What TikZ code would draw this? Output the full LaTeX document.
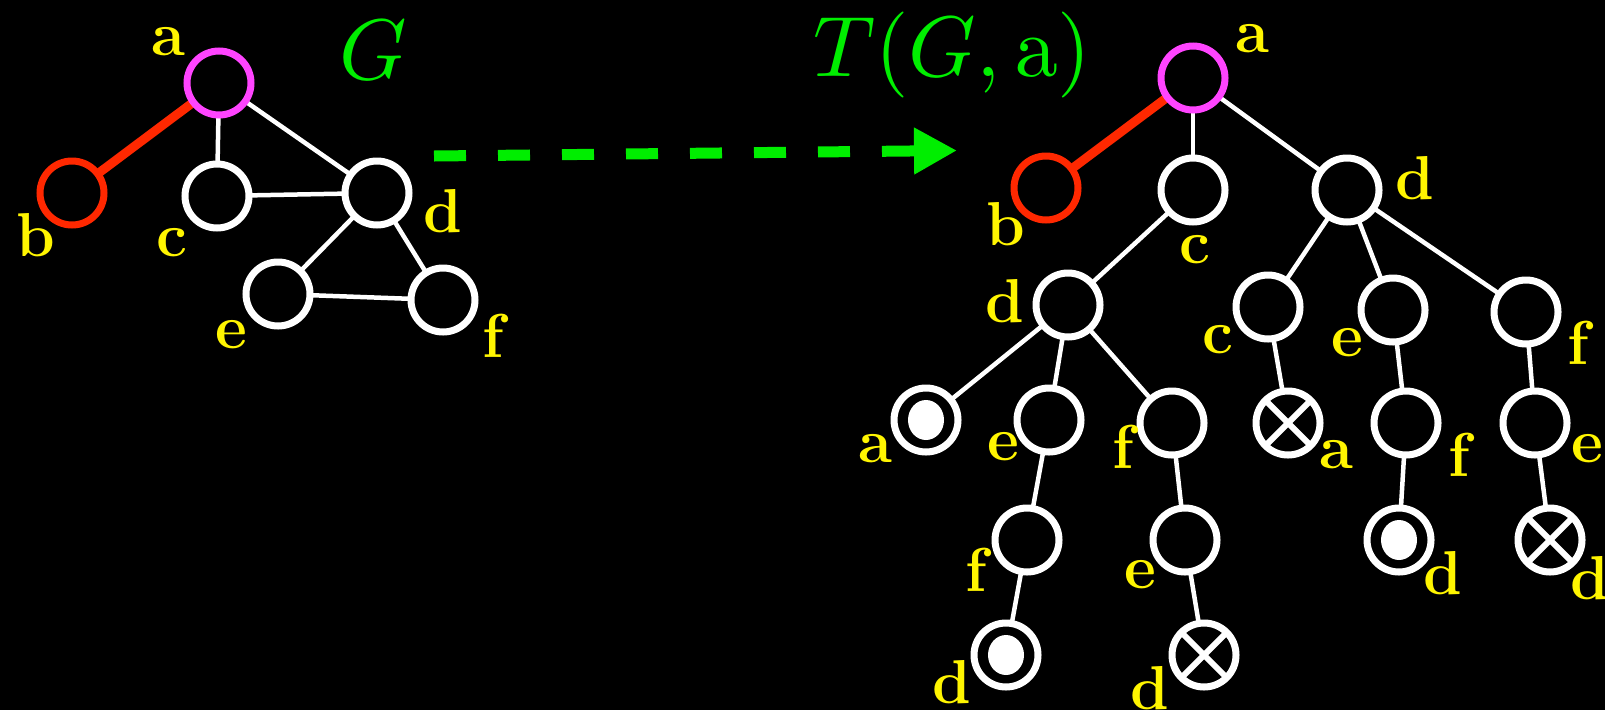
\documentclass[tikz,border=0pt]{standalone}
\DeclareFontShape{OT1}{cmr}{m}{n}{<->cmr10}{}
\DeclareFontShape{OML}{cmm}{m}{it}{<->cmmi10}{}
\DeclareFontShape{OMS}{cmsy}{m}{n}{<->cmsy10}{}
\DeclareFontShape{OMX}{cmex}{m}{n}{<->cmex10}{}
\usetikzlibrary{arrows.meta}
\definecolor{gg}{RGB}{0,238,0}
\definecolor{rr}{RGB}{255,40,0}
\definecolor{mm}{RGB}{255,68,255}
\definecolor{yy}{RGB}{255,245,0}
\pgfdeclarelayer{bg}
\pgfdeclarelayer{edges}
\pgfsetlayers{bg,edges,main}
\begin{document}
\begin{tikzpicture}[x=1pt,y=-1pt,
  v/.style={circle,draw=white,line width=7pt,minimum size=64pt,inner sep=0pt,outer sep=0pt,fill=black},
  rootv/.style={v,draw=mm},
  redv/.style={v,draw=rr},
  ed/.style={draw=white,line width=4.5pt},
  red/.style={draw=rr,line width=9pt},
  lab/.style={text=yy,font=\fontsize{62}{62}\selectfont\bfseries,inner sep=0pt},
  dot/.style={fill=white},
  xl/.style={draw=white,line width=6pt}]
\begin{pgfonlayer}{bg}
\fill[black] (0,0) rectangle (1605,710);
\end{pgfonlayer}
\useasboundingbox (0,0) rectangle (1605,710);

% ---------- left graph G ----------
\node[rootv] (La) at (219,83) {};
\node[redv] (Lb) at (72,193) {};
\node[v] (Lc) at (217,196) {};
\node[v] (Ld) at (377,193) {};
\node[v] (Le) at (278,294) {};
\node[v] (Lf) at (443,300) {};
\begin{pgfonlayer}{edges}
\draw[red] (La) -- (Lb);
\draw[ed] (La) -- (Lc);
\draw[ed] (La) -- (Ld);
\draw[ed] (Lc) -- (Ld);
\draw[ed] (Ld) -- (Le);
\draw[ed] (Ld) -- (Lf);
\draw[ed] (Le) -- (Lf);
\end{pgfonlayer}
\node[lab] (lLa) at (168,42) {a};
\node[lab] (lLb) at (36,235) {b};
\node[lab] (lLc) at (172,243) {c};
\node[lab] (lLd) at (443,211) {d};
\node[lab] (lLe) at (231,335) {e};
\node[lab] (lLf) at (493,336) {f};
\node[text=gg,inner sep=0pt,font=\fontsize{86}{86}\selectfont] (G) at (373,50) {$G$};

% ---------- arrow ----------
\coordinate (arrS) at (434,156);
\coordinate (arrE) at (957,150.5);
\draw[gg,line width=11pt,dash pattern=on 32pt off 32pt,-{Triangle[length=43pt,width=44pt]}] (arrS) -- (arrE);
\node[text=gg,inner sep=0pt,font=\fontsize{86}{86}\selectfont] (TG) at (952,55) {$T(G,\mathrm{a})$};

% ---------- right tree ----------
\node[rootv] (a) at (1193,78) {};
\node[redv] (b) at (1046,188) {};
\node[v] (c) at (1193,190) {};
\node[v] (d) at (1347,190) {};
\node[v] (d2) at (1068,305) {};
\node[v] (c2) at (1268,307) {};
\node[v] (e2) at (1393,310) {};
\node[v] (f2) at (1526,312) {};
\node[v] (a3) at (926,420) {};
\node[v] (e3) at (1049,420) {};
\node[v] (f3) at (1172,423) {};
\node[v] (xa3) at (1288,423) {};
\node[v] (f3b) at (1406,423) {};
\node[v] (e3b) at (1535,423) {};
\node[v] (f4) at (1027,540) {};
\node[v] (e4) at (1185,540) {};
\node[v] (d4) at (1399,540) {};
\node[v] (xd4) at (1550,540) {};
\node[v] (d5) at (1006,655) {};
\node[v] (xd5) at (1204,655) {};

\begin{pgfonlayer}{edges}
\draw[red] (a) -- (b);
\draw[ed] (a) -- (c);
\draw[ed] (a) -- (d);
\draw[ed] (c) -- (d2);
\draw[ed] (d) -- (c2);
\draw[ed] (d) -- (e2);
\draw[ed] (d) -- (f2);
\draw[ed] (d2) -- (a3);
\draw[ed] (d2) -- (e3);
\draw[ed] (d2) -- (f3);
\draw[ed] (c2) -- (xa3);
\draw[ed] (e2) -- (f3b);
\draw[ed] (f2) -- (e3b);
\draw[ed] (e3) -- (f4);
\draw[ed] (f3) -- (e4);
\draw[ed] (f3b) -- (d4);
\draw[ed] (e3b) -- (xd4);
\draw[ed] (f4) -- (d5);
\draw[ed] (e4) -- (xd5);
\end{pgfonlayer}

% filled leaves
\fill[dot] (a3) ellipse [x radius=18, y radius=20];
\fill[dot] (d4) ellipse [x radius=18, y radius=20];
\fill[dot] (d5) ellipse [x radius=18, y radius=20];
% crossed leaves
\foreach \n in {xa3,xd4,xd5}{
  \draw[xl] (\n.north east) -- (\n.south west);
  \draw[xl] (\n.north west) -- (\n.south east);
}

% labels
\node[lab] (la) at (1252,39) {a};
\node[lab] (lb) at (1006,224) {b};
\node[lab] (lc) at (1195,250) {c};
\node[lab] (ld) at (1415,178) {d};
\node[lab] (ld2) at (1005,301) {d};
\node[lab] (lc2) at (1218,340) {c};
\node[lab] (le2) at (1347,343) {e};
\node[lab] (lf2) at (1578,343) {f};
\node[lab] (la3) at (875,449) {a};
\node[lab] (le3) at (1003,447) {e};
\node[lab] (lf3) at (1123,447) {f};
\node[lab] (lxa3) at (1336,455) {a};
\node[lab] (lf3b) at (1459,455) {f};
\node[lab] (le3b) at (1587,449) {e};
\node[lab] (lf4) at (976,570) {f};
\node[lab] (le4) at (1140,575) {e};
\node[lab] (ld4) at (1443,573) {d};
\node[lab] (lxd4) at (1590,578) {d};
\node[lab] (ld5) at (952,682) {d};
\node[lab] (lxd5) at (1150,688) {d};
\end{tikzpicture}
\end{document}
